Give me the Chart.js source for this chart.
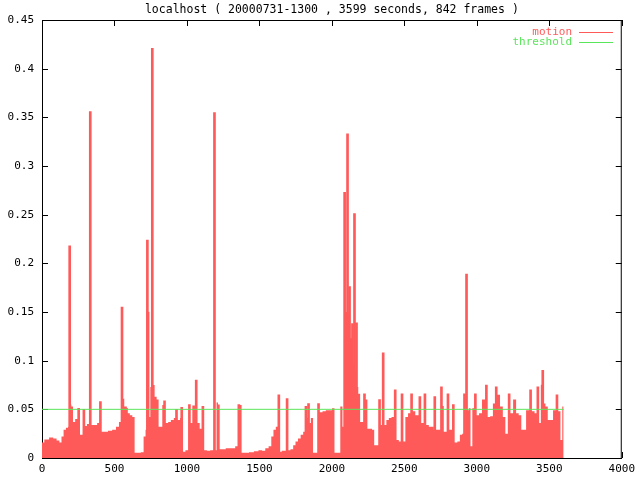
<!DOCTYPE html>
<html>
<head>
<meta charset="utf-8">
<script src="https://cdn.jsdelivr.net/npm/chart.js@4/dist/chart.umd.min.js"></script>
<style>
  html, body { margin: 0; padding: 0; background: #fff; }
  #wrap { width: 640px; height: 480px; position: relative; }
</style>
</head>
<body>
<div id="wrap"><canvas id="motionChart"></canvas></div>
<script>
const titleText = "localhost ( 20000731-1300 , 3599 seconds, 842 frames )";

// motion level between the peaks (seconds / value)
const frameTimes = [
  0, 32, 66, 89, 112, 128, 141, 157, 173, 187,
  198, 207, 221, 237, 264, 278, 301, 319, 346, 369,
  392, 415, 442, 469, 499, 522, 540, 561, 574, 597,
  615, 631, 647, 670, 693, 709, 720, 743, 752, 770,
  784, 798, 811, 825, 848, 861, 880, 898, 921, 944,
  960, 978, 1001, 1028, 1046, 1080, 1096, 1126, 1149, 1172,
  1199, 1210, 1219, 1233, 1256, 1279, 1302, 1324, 1342, 1379,
  1411, 1445, 1479, 1507, 1529, 1552, 1575, 1589, 1605, 1621,
  1643, 1666, 1703, 1725, 1741, 1757, 1775, 1794, 1810, 1832,
  1848, 1862, 1878, 1894, 1924, 1947, 1969, 1992, 2010, 2026,
  2049, 2067, 2079, 2090, 2098, 2112, 2126, 2134, 2147, 2162,
  2176, 2188, 2202, 2215, 2238, 2252, 2270, 2284, 2300, 2316,
  2341, 2368, 2384, 2402, 2421, 2453, 2471, 2498, 2516, 2535,
  2566, 2585, 2621, 2658, 2680, 2726, 2744, 2771, 2820, 2858,
  2874, 2892, 2906, 2938, 2952, 2961, 2977, 3006, 3025, 3047,
  3082, 3102, 3120, 3150, 3170, 3189, 3205, 3239, 3262, 3280,
  3298, 3316, 3332, 3348, 3389, 3408, 3435, 3467, 3480, 3499,
  3517, 3535, 3569, 3585, 3594, 3599
];
const motion = [
  0.016, 0.019, 0.021, 0.020, 0.018, 0.016, 0.022, 0.029, 0.031, 0.032,
  0.055, 0.053, 0.037, 0.040, 0.024, 0.024, 0.033, 0.035, 0.034, 0.034,
  0.036, 0.027, 0.027, 0.028, 0.029, 0.032, 0.037, 0.061, 0.053, 0.046,
  0.044, 0.042, 0.0055, 0.0055, 0.006, 0.022, 0.029, 0.042, 0.073, 0.075,
  0.063, 0.060, 0.032, 0.032, 0.059, 0.036, 0.037, 0.039, 0.041, 0.039,
  0.041, 0.0065, 0.008, 0.036, 0.054, 0.036, 0.030, 0.008, 0.0075, 0.008,
  0.008, 0.057, 0.055, 0.009, 0.009, 0.010, 0.010, 0.010, 0.012, 0.0055,
  0.0055, 0.006, 0.007, 0.008, 0.0075, 0.010, 0.012, 0.022, 0.029, 0.032,
  0.0065, 0.0075, 0.008, 0.009, 0.013, 0.017, 0.020, 0.024, 0.027, 0.041,
  0.036, 0.041, 0.0055, 0.0055, 0.047, 0.048, 0.049, 0.049, 0.051, 0.0055,
  0.0055, 0.053, 0.032, 0.150, 0.150, 0.148, 0.123, 0.123, 0.096, 0.090,
  0.073, 0.066, 0.037, 0.037, 0.060, 0.030, 0.030, 0.029, 0.013, 0.013,
  0.034, 0.034, 0.039, 0.041, 0.042, 0.0185, 0.017, 0.017, 0.042, 0.046,
  0.048, 0.044, 0.036, 0.034, 0.032, 0.029, 0.029, 0.027, 0.029, 0.016,
  0.017, 0.024, 0.025, 0.049, 0.051, 0.012, 0.051, 0.044, 0.046, 0.060,
  0.042, 0.043, 0.056, 0.065, 0.053, 0.042, 0.025, 0.046, 0.060, 0.046,
  0.044, 0.029, 0.029, 0.049, 0.048, 0.046, 0.036, 0.056, 0.053, 0.039,
  0.039, 0.049, 0.048, 0.0185, 0.053, 0.053
];

// single-frame peaks
const spikeTimes = [
  191, 253, 289, 333, 403, 552, 583, 727, 732, 761,
  839, 928, 964, 1017, 1064, 1110, 1190, 1358, 1368, 1634,
  1691, 1821, 1839, 1908, 2088, 2108, 2122, 2142, 2156, 2170,
  2225, 2329, 2354, 2437, 2484, 2550, 2607, 2642, 2710, 2756,
  2763, 2801, 2838, 2915, 2929, 2990, 3066, 3134, 3223, 3371,
  3421, 3451, 3455, 3553
];
const spikeMotion = [
  0.218, 0.051, 0.050, 0.356, 0.058, 0.155, 0.051, 0.224, 0.150, 0.421,
  0.054, 0.050, 0.052, 0.055, 0.080, 0.053, 0.355, 0.055, 0.054, 0.065,
  0.061, 0.053, 0.056, 0.056, 0.273, 0.333, 0.176, 0.138, 0.251, 0.139,
  0.066, 0.060, 0.108, 0.070, 0.066, 0.066, 0.063, 0.066, 0.063, 0.073,
  0.053, 0.066, 0.055, 0.066, 0.189, 0.066, 0.075, 0.073, 0.066, 0.070,
  0.073, 0.075, 0.090, 0.065
];

const thresholdTimes = [0, 3599];
const thresholdValues = [0.05, 0.05];

const xTicks = [0, 500, 1000, 1500, 2000, 2500, 3000, 3500, 4000];
const yTicks = [0, 0.05, 0.1, 0.15, 0.2, 0.25, 0.3, 0.35, 0.4, 0.45];

const RED = "#ff5a5a";
const GREEN = "#5ae65a";
const FONT = "'DejaVu Sans Mono', 'Liberation Mono', monospace";

// gnuplot-like frame: top/right border and inward ticks on all sides
const framePlugin = {
  id: "frame",
  beforeDatasetsDraw(chart) {
    const { ctx, chartArea: a, scales } = chart;
    ctx.save();
    ctx.strokeStyle = "#000";
    ctx.lineWidth = 1;
    ctx.beginPath();
    ctx.moveTo(a.left, a.top + 0.5);
    ctx.lineTo(a.right, a.top + 0.5);
    ctx.moveTo(a.right - 0.5, a.top);
    ctx.lineTo(a.right - 0.5, a.bottom);
    xTicks.forEach((v) => {
      const px = Math.round(scales.x.getPixelForValue(v)) + 0.5;
      ctx.moveTo(px, a.bottom);
      ctx.lineTo(px, a.bottom - 6);
      ctx.moveTo(px, a.top);
      ctx.lineTo(px, a.top + 6);
    });
    yTicks.forEach((v) => {
      const py = Math.round(scales.y.getPixelForValue(v)) + 0.5;
      ctx.moveTo(a.left, py);
      ctx.lineTo(a.left + 6, py);
      ctx.moveTo(a.right, py);
      ctx.lineTo(a.right - 6, py);
    });
    ctx.stroke();
    ctx.restore();
  },
  afterDraw(chart) {
    const { ctx, chartArea: a } = chart;
    ctx.save();
    ctx.textBaseline = "middle";
    ctx.fillStyle = "#000";
    ctx.textAlign = "center";
    ctx.font = "11.5px " + FONT;
    ctx.fillText(titleText, (a.left + a.right) / 2, 10);

    // key
    const keys = [
      { label: "motion", color: RED, y: 32 },
      { label: "threshold", color: GREEN, y: 42 },
    ];
    ctx.font = "11px " + FONT;
    ctx.textAlign = "right";
    keys.forEach((k) => {
      ctx.fillStyle = k.color;
      ctx.fillText(k.label, 572, k.y);
      ctx.strokeStyle = k.color;
      ctx.lineWidth = 1;
      ctx.beginPath();
      ctx.moveTo(579, k.y + 0.5);
      ctx.lineTo(613, k.y + 0.5);
      ctx.stroke();
    });
    ctx.restore();
  },
};

const ctx = document.getElementById("motionChart").getContext("2d");
new Chart(ctx, {
  type: "line",
  data: {
    datasets: [
      {
        label: "threshold",
        data: thresholdTimes.map((t, i) => ({ x: t, y: thresholdValues[i] })),
        borderColor: GREEN,
        borderWidth: 1,
        pointRadius: 0,
        fill: false,
        order: 0,
      },
      {
        type: "bar",
        label: "motion peaks",
        data: spikeTimes.map((t, i) => ({ x: t, y: spikeMotion[i] })),
        backgroundColor: RED,
        borderWidth: 0,
        barThickness: 2,
        order: 1,
      },
      {
        label: "motion",
        data: frameTimes.map((t, i) => ({ x: t, y: motion[i] })),
        borderColor: RED,
        backgroundColor: RED,
        borderWidth: 0,
        pointRadius: 0,
        stepped: "middle",
        fill: "origin",
        order: 2,
      },
    ],
  },
  options: {
    responsive: true,
    maintainAspectRatio: false,
    animation: false,
    layout: { padding: { top: 20, right: 14, left: 0, bottom: 0 } },
    plugins: {
      legend: { display: false },
      tooltip: { enabled: false },
      title: { display: false },
    },
    scales: {
      x: {
        type: "linear",
        min: 0,
        max: 4000,
        offset: false,
        afterBuildTicks: (scale) => {
          scale.ticks = xTicks.map((v) => ({ value: v }));
        },
        afterFit: (scale) => {
          scale.height = 22;
        },
        grid: { display: true, drawOnChartArea: false, drawTicks: false },
        border: { display: true, color: "#000", width: 1 },
        ticks: {
          color: "#000",
          padding: 5,
          maxRotation: 0,
          font: { family: FONT, size: 11 },
          callback: (v) => String(v),
        },
      },
      y: {
        min: 0,
        max: 0.45,
        afterBuildTicks: (scale) => {
          scale.ticks = yTicks.map((v) => ({ value: v }));
        },
        afterFit: (scale) => {
          scale.width = 42;
        },
        grid: { display: true, drawOnChartArea: false, drawTicks: false },
        border: { display: true, color: "#000", width: 1 },
        ticks: {
          color: "#000",
          padding: 8,
          font: { family: FONT, size: 11 },
          callback: (v) => String(+Number(v).toFixed(2)),
        },
      },
    },
  },
  plugins: [framePlugin],
});
</script>
</body>
</html>
